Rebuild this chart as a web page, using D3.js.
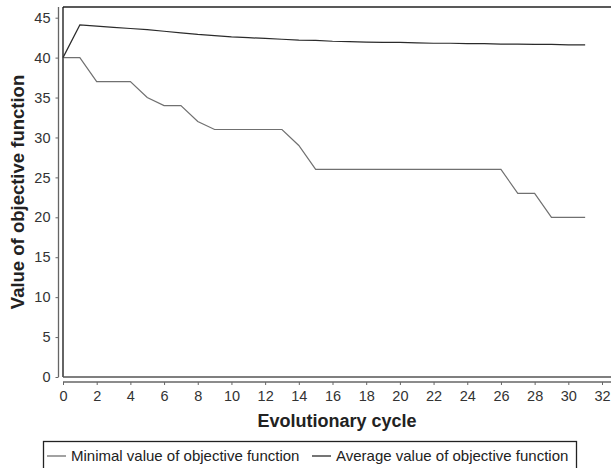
<!DOCTYPE html>
<html>
<head>
<meta charset="utf-8">
<script src="https://cdn.jsdelivr.net/npm/d3@7"></script>
<style>
  body { margin: 0; background: #fff; }
  svg { display: block; font-family: "Liberation Sans", Arial, sans-serif; }
</style>
</head>
<body>
<div id="chart"></div>
<script>
// evolutionary cycles 0..31
const cycles = d3.range(0, 32);
const minimalValues = [40, 40, 37, 37, 37, 35, 34, 34, 32, 31, 31, 31, 31, 31, 29, 26,
  26, 26, 26, 26, 26, 26, 26, 26, 26, 26, 26, 23, 23, 20, 20, 20];
const averageValues = [40, 44.1, 43.95, 43.8, 43.65, 43.5, 43.3, 43.1, 42.9, 42.75, 42.6,
  42.5, 42.4, 42.3, 42.2, 42.15, 42.05, 42.0, 41.95, 41.9, 41.9, 41.85, 41.8, 41.8,
  41.75, 41.75, 41.7, 41.7, 41.65, 41.65, 41.6, 41.6];
const xTicks = d3.range(0, 33, 2);
const yTicks = d3.range(0, 46, 5);
const seriesNames = ["Minimal value of objective function", "Average value of objective function"];
const seriesColors = ["#707070", "#2b2b2b"];

const width = 611, height = 468;
const plot = { left: 63, top: 7, right: 611, bottom: 377 };

const svg = d3.select("#chart").append("svg")
  .attr("width", width)
  .attr("height", height);

const x = d3.scaleLinear().domain([0, 32]).range([plot.left, 602]);
const y = d3.scaleLinear().domain([0, 46.34]).range([plot.bottom, plot.top]);

// plot frame
svg.append("line")
  .attr("x1", plot.left).attr("x2", plot.right)
  .attr("y1", plot.top).attr("y2", plot.top)
  .attr("stroke", "#222").attr("stroke-width", 1.3);
svg.append("line")
  .attr("x1", plot.left).attr("x2", plot.left)
  .attr("y1", plot.top).attr("y2", plot.bottom)
  .attr("stroke", "#111").attr("stroke-width", 1.3);
svg.append("line")
  .attr("x1", plot.left).attr("x2", plot.right)
  .attr("y1", plot.bottom).attr("y2", plot.bottom)
  .attr("stroke", "#555").attr("stroke-width", 1.3);

// axes (offset from the frame)
const xAxis = svg.append("g")
  .attr("transform", `translate(0,382)`)
  .call(d3.axisBottom(x).tickValues(xTicks).tickSize(3).tickPadding(6).tickSizeOuter(0));
xAxis.select(".domain").attr("d", `M${plot.left},0H${plot.right}`);

const yAxis = svg.append("g")
  .attr("transform", `translate(58.5,0)`)
  .call(d3.axisLeft(y).tickValues(yTicks).tickSize(3).tickPadding(5).tickSizeOuter(0));
yAxis.select(".domain").attr("d", `M0,${plot.top}V${plot.bottom}`);

svg.selectAll(".domain").attr("stroke", "#666").attr("stroke-width", 1.3);
svg.selectAll(".tick line").attr("stroke", "#666");
svg.selectAll(".tick text")
  .attr("fill", "#333")
  .style("font-size", "14.5px")
  .style("font-family", "'Liberation Sans', Arial, sans-serif");

// axis titles
svg.append("text")
  .attr("x", (plot.left + plot.right) / 2)
  .attr("y", 427)
  .attr("text-anchor", "middle")
  .attr("fill", "#222")
  .style("font-size", "18px")
  .style("font-weight", "bold")
  .text("Evolutionary cycle");

svg.append("text")
  .attr("transform", `translate(24,${(plot.top + plot.bottom) / 2}) rotate(-90)`)
  .attr("text-anchor", "middle")
  .attr("fill", "#222")
  .style("font-size", "18.5px")
  .style("font-weight", "bold")
  .text("Value of objective function");

// series lines
const line = d3.line()
  .x((d, i) => x(cycles[i]))
  .y(d => y(d));

[minimalValues, averageValues].forEach((vals, k) => {
  svg.append("path")
    .datum(vals)
    .attr("fill", "none")
    .attr("stroke", seriesColors[k])
    .attr("stroke-width", 1.2)
    .attr("d", line);
});

// legend
const legend = svg.append("g");
legend.append("rect")
  .attr("x", 43.5).attr("y", 441.5)
  .attr("width", 533).attr("height", 40)
  .attr("fill", "#fff")
  .attr("stroke", "#222").attr("stroke-width", 1.3);

const legendX = [47, 312];
seriesNames.forEach((name, k) => {
  legend.append("line")
    .attr("x1", legendX[k]).attr("x2", legendX[k] + 19)
    .attr("y1", 456).attr("y2", 456)
    .attr("stroke", seriesColors[k]).attr("stroke-width", 1.3);
  legend.append("text")
    .attr("x", legendX[k] + 24)
    .attr("y", 461)
    .attr("fill", "#222")
    .style("font-size", "15px")
    .text(name);
});
</script>
</body>
</html>
